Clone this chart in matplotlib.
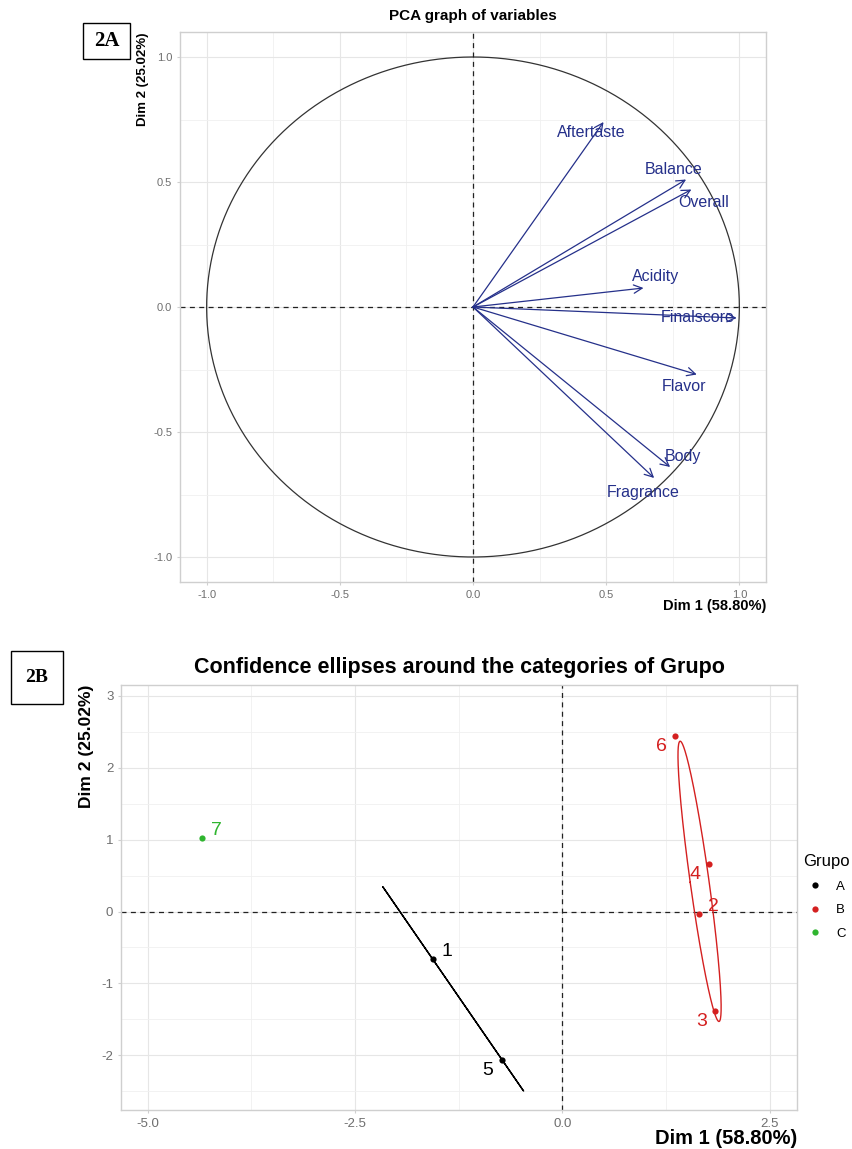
import numpy as np
import matplotlib
matplotlib.use("Agg")
import matplotlib.pyplot as plt
from matplotlib.patches import Rectangle
from matplotlib.lines import Line2D
from matplotlib.ticker import MultipleLocator, FormatStrFormatter

plt.rcParams['font.family'] = ['Liberation Sans', 'DejaVu Sans']
plt.rcParams['axes.unicode_minus'] = False

# 2A: variables on the correlation circle
variables = ["Aftertaste", "Balance", "Overall", "Acidity", "Finalscore", "Flavor", "Body", "Fragrance"]
var_dim1 = [0.49, 0.80, 0.82, 0.64, 0.99, 0.84, 0.74, 0.68]
var_dim2 = [0.74, 0.51, 0.47, 0.076, -0.044, -0.27, -0.64, -0.684]
# where each label sits relative to its arrow tip (data units)
var_label_dx = [-0.045, -0.045, 0.045, 0.045, -0.146, -0.049, 0.049, -0.041]
var_label_dy = [-0.043, 0.040, -0.052, 0.048, 0.0, -0.048, 0.044, -0.056]

# 2B: individuals
ind_names = ["1", "2", "3", "4", "5", "6", "7"]
ind_dim1 = [-1.56, 1.65, 1.846, 1.765, -0.727, 1.36, -4.34]
ind_dim2 = [-0.666, -0.035, -1.386, 0.66, -2.06, 2.44, 1.024]
ind_group = ["A", "B", "B", "B", "A", "B", "C"]
groups = ["A", "B", "C"]
# label side: 1 = up-right, -1 = down-left
ind_label_side = [1, 1, -1, -1, -1, -1, 1]

W, H = 853, 1149
VAR_COL = "#25308a"
GROUP_COL = {"A": "black", "B": "#d42020", "C": "#2fb52f"}
CHI2_95 = 5.991  # chi-square 2 df, 95%
Y_LIMIT_B = -2.5  # lower scale limit in 2B, ellipse path is cut there


def fx(x):
    return x / W


def fy(y):
    return 1 - y / H


def style_axes(ax, major, minor_x, minor_y, fmt_x, fmt_y):
    ax.xaxis.set_major_locator(MultipleLocator(major[0]))
    ax.yaxis.set_major_locator(MultipleLocator(major[1]))
    ax.xaxis.set_minor_locator(MultipleLocator(minor_x))
    ax.yaxis.set_minor_locator(MultipleLocator(minor_y))
    ax.xaxis.set_major_formatter(FormatStrFormatter(fmt_x))
    ax.yaxis.set_major_formatter(FormatStrFormatter(fmt_y))
    ax.grid(which="major", color="#e6e6e6", lw=0.8)
    ax.grid(which="minor", color="#f0f0f0", lw=0.6)
    ax.set_axisbelow(True)
    for s in ax.spines.values():
        s.set_color("#cfcfcf")
        s.set_linewidth(1.0)
    ax.tick_params(which="major", length=2.5, color="#cfcfcf", labelcolor="#6e6e6e", pad=3)
    ax.tick_params(which="minor", length=0)


def conf_ellipse(x, y, n_pts=300):
    pts = np.column_stack([x, y])
    mean = pts.mean(axis=0)
    cov = np.cov(pts, rowvar=False) / len(pts)
    vals, vecs = np.linalg.eigh(cov)
    vals = np.clip(vals, 0, None)
    t = np.linspace(0, 2 * np.pi, n_pts)
    circ = np.column_stack([np.cos(t), np.sin(t)]) * np.sqrt(vals * CHI2_95)
    return mean + circ @ vecs.T


fig = plt.figure(figsize=(W / 100, H / 100), dpi=100)

# ---------------- 2A ----------------
ax1 = fig.add_axes([fx(180), fy(582), fx(766) - fx(180), fy(32) - fy(582)])
ax1.set_xlim(-1.1, 1.1)
ax1.set_ylim(-1.1, 1.1)
style_axes(ax1, (0.5, 0.5), 0.25, 0.25, "%.1f", "%.1f")
ax1.tick_params(labelsize=8)

t = np.linspace(0, 2 * np.pi, 400)
ax1.plot(np.cos(t), np.sin(t), color="#333333", lw=0.9)
ax1.axhline(0, color="#222222", lw=0.9, ls=(0, (4, 3.5)))
ax1.axvline(0, color="#222222", lw=0.9, ls=(0, (4, 3.5)))

for name, x, y, dx, dy in zip(variables, var_dim1, var_dim2, var_label_dx, var_label_dy):
    ax1.annotate("", xy=(x, y), xytext=(0, 0),
                 arrowprops=dict(arrowstyle="->,head_length=0.6,head_width=0.3",
                                 color=VAR_COL, lw=0.9, shrinkA=0, shrinkB=0))
    ax1.text(x + dx, y + dy, name, color=VAR_COL, fontsize=11.5, ha="center", va="center")

fig.text(fx(473), fy(16), "PCA graph of variables", ha="center", va="center",
         fontsize=11, fontweight="bold")
fig.text(fx(143), fy(32), "Dim 2 (25.02%)", rotation=90, ha="center", va="top",
         fontsize=9.5, fontweight="bold")
fig.text(fx(766), fy(606), "Dim 1 (58.80%)", ha="right", va="center",
         fontsize=10.5, fontweight="bold")

# ---------------- 2B ----------------
ax2 = fig.add_axes([fx(121), fy(1110), fx(797) - fx(121), fy(685) - fy(1110)])
ax2.set_xlim(-5.32, 2.83)
ax2.set_ylim(-2.76, 3.15)
style_axes(ax2, (2.5, 1), 1.25, 0.5, "%.1f", "%d")
ax2.tick_params(labelsize=9.5)
ax2.axhline(0, color="#222222", lw=0.9, ls=(0, (4, 3.5)))
ax2.axvline(0, color="#222222", lw=0.9, ls=(0, (4, 3.5)))

x_arr = np.array(ind_dim1)
y_arr = np.array(ind_dim2)
g_arr = np.array(ind_group)
for g in groups:
    m = g_arr == g
    col = GROUP_COL[g]
    if m.sum() > 1:
        ell = conf_ellipse(x_arr[m], y_arr[m])
        ell[ell[:, 1] < Y_LIMIT_B] = np.nan
        ax2.plot(ell[:, 0], ell[:, 1], color=col, lw=1.0)
    ax2.scatter(x_arr[m], y_arr[m], s=20, color=col, zorder=3, linewidths=0)

for name, x, y, g, side in zip(ind_names, ind_dim1, ind_dim2, ind_group, ind_label_side):
    off = (10, 5.5) if side > 0 else (-10, -7.5)
    ax2.annotate(name, xy=(x, y), xytext=off, textcoords="offset points",
                 ha="center", va="center", fontsize=14, color=GROUP_COL[g])

handles = [Line2D([], [], ls="", marker="o", markersize=4.5, color=GROUP_COL[g], markeredgewidth=0)
           for g in groups]
leg = fig.legend(handles, groups, title="Grupo", loc="upper left",
                 bbox_to_anchor=(fx(803), fy(854)), bbox_transform=fig.transFigure,
                 frameon=False, fontsize=9.5, title_fontsize=12, borderpad=0,
                 borderaxespad=0, handlelength=1.8, handletextpad=0.7,
                 labelspacing=0.86, alignment="left")

fig.text(fx(459), fy(667), "Confidence ellipses around the categories of Grupo",
         ha="center", va="center", fontsize=15.5, fontweight="bold")
fig.text(fx(87), fy(685), "Dim 2 (25.02%)", rotation=90, ha="center", va="top",
         fontsize=12.5, fontweight="bold")
fig.text(fx(797), fy(1138), "Dim 1 (58.80%)", ha="right", va="center",
         fontsize=14.5, fontweight="bold")

# panel tags
for tag, x0, y0, x1, y1, fs in [("2A", 83, 23, 130, 59, 15), ("2B", 11, 651, 63, 704, 14)]:
    fig.patches.append(Rectangle((fx(x0), fy(y1)), fx(x1) - fx(x0), fy(y0) - fy(y1),
                                 transform=fig.transFigure, fill=False, ec="black", lw=1.0))
    fig.text(fx((x0 + x1) / 2), fy((y0 + y1) / 2), tag, ha="center", va="center",
             fontsize=fs, fontweight="bold", family="Liberation Serif")

fig.savefig("out.png", dpi=100, facecolor="white")
